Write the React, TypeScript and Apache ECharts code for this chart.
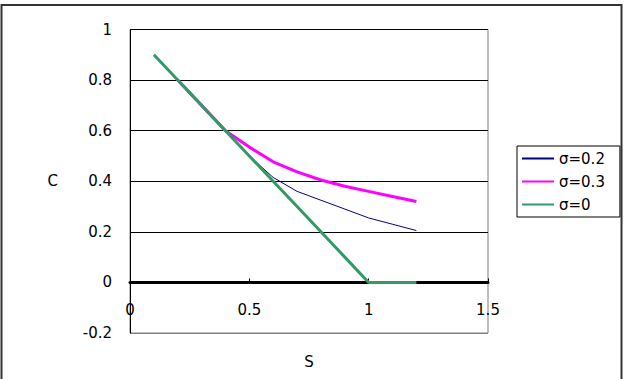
import React, { useEffect, useRef } from "react";
import * as echarts from "echarts";

const sValues = [0.1, 0.2, 0.3, 0.4, 0.5, 0.6, 0.7, 0.8, 0.9, 1.0, 1.1, 1.2];
const sigma02 = [null, null, 0.7, 0.6, 0.5, 0.415, 0.36, 0.325, 0.29, 0.255, 0.23, 0.205];
const sigma03 = [null, 0.8, 0.7, 0.6, 0.535, 0.477, 0.437, 0.405, 0.38, 0.36, 0.34, 0.32];
const sigma0 = [0.9, 0.8, 0.7, 0.6, 0.5, 0.4, 0.3, 0.2, 0.1, 0.0, 0.0, 0.0];
const seriesNames = ["σ=0.2", "σ=0.3", "σ=0"];
const seriesColors = ["#000080", "#FF00FF", "#339966"];
const seriesWidths = [1, 3, 3];
const yMin = -0.2;
const yMax = 1;

const FONT = "DejaVu Sans";

export default function App() {
  const ref = useRef<HTMLDivElement>(null);
  useEffect(() => {
    if (!ref.current) return;
    const chart = echarts.init(ref.current, null, { renderer: "svg" });
    const datasets = [sigma02, sigma03, sigma0];
    const gridHeight = 303.5;
    const zeroOffset = -((0 - yMin) / (yMax - yMin)) * gridHeight;
    chart.setOption({
      animation: false,
      backgroundColor: "#ffffff",
      textStyle: { fontFamily: FONT, color: "#000" },
      grid: {
        left: 130,
        top: 29.5,
        width: 358,
        height: gridHeight,
        outerBoundsMode: "none",
        containLabel: false,
        show: true,
        borderColor: "#808080",
        borderWidth: 1,
        backgroundColor: "transparent",
      },
      legend: {
        orient: "vertical",
        left: 517,
        top: 146,
        padding: [5, 15, 5, 4],
        itemWidth: 32,
        itemHeight: 14,
        itemGap: 8,
        borderColor: "#000",
        borderWidth: 1,
        borderRadius: 0,
        backgroundColor: "#fff",
        data: seriesNames,
        itemStyle: { opacity: 0 },
        textStyle: { fontFamily: FONT, fontSize: 15, color: "#000", lineHeight: 14 },
      },
      xAxis: {
        type: "value",
        min: 0,
        max: 1.5,
        interval: 0.5,
        offset: zeroOffset,
        name: "S",
        nameLocation: "middle",
        nameGap: 72,
        nameTextStyle: { fontFamily: FONT, fontSize: 15, color: "#000" },
        axisLine: { show: true, onZero: false, lineStyle: { color: "#000", width: 3 } },
        axisTick: { show: true, inside: true, length: 4, lineStyle: { color: "#000" } },
        axisLabel: { margin: 20, fontFamily: FONT, fontSize: 15, color: "#000" },
        splitLine: { show: false },
      },
      yAxis: {
        type: "value",
        min: yMin,
        max: yMax,
        interval: 0.2,
        name: "C",
        nameLocation: "middle",
        nameGap: 72,
        nameRotate: 0,
        nameTextStyle: { fontFamily: FONT, fontSize: 15, color: "#000" },
        axisLine: { show: true, onZero: false, lineStyle: { color: "#000", width: 1 } },
        axisTick: { show: false },
        axisLabel: {
          margin: 18,
          fontFamily: FONT,
          fontSize: 15,
          color: "#000",
          formatter: (v: number) => String(Math.round(v * 10) / 10),
        },
        splitLine: {
          show: true,
          lineStyle: {
            color: ["#808080", "#000", "#000", "#000", "#000", "#000", "#000"],
            width: 1,
          },
        },
      },
      graphic: [
        {
          type: "rect",
          silent: true,
          shape: { x: 1.5, y: 5, width: 620, height: 390 },
          style: { fill: "none", stroke: "#333", lineWidth: 2 },
        },
      ],
      series: seriesNames.map((name, i) => ({
        name,
        type: "line",
        symbol: "none",
        clip: true,
        connectNulls: false,
        data: sValues.map((s, j) => [s, datasets[i][j]]),
        lineStyle: { color: seriesColors[i], width: seriesWidths[i] },
        itemStyle: { color: seriesColors[i] },
        z: 3 + i,
      })),
    });
    return () => chart.dispose();
  }, []);
  return (
    <div
      ref={ref}
      style={{ position: "fixed", left: 0, top: 0, width: 625, height: 379 }}
    />
  );
}
